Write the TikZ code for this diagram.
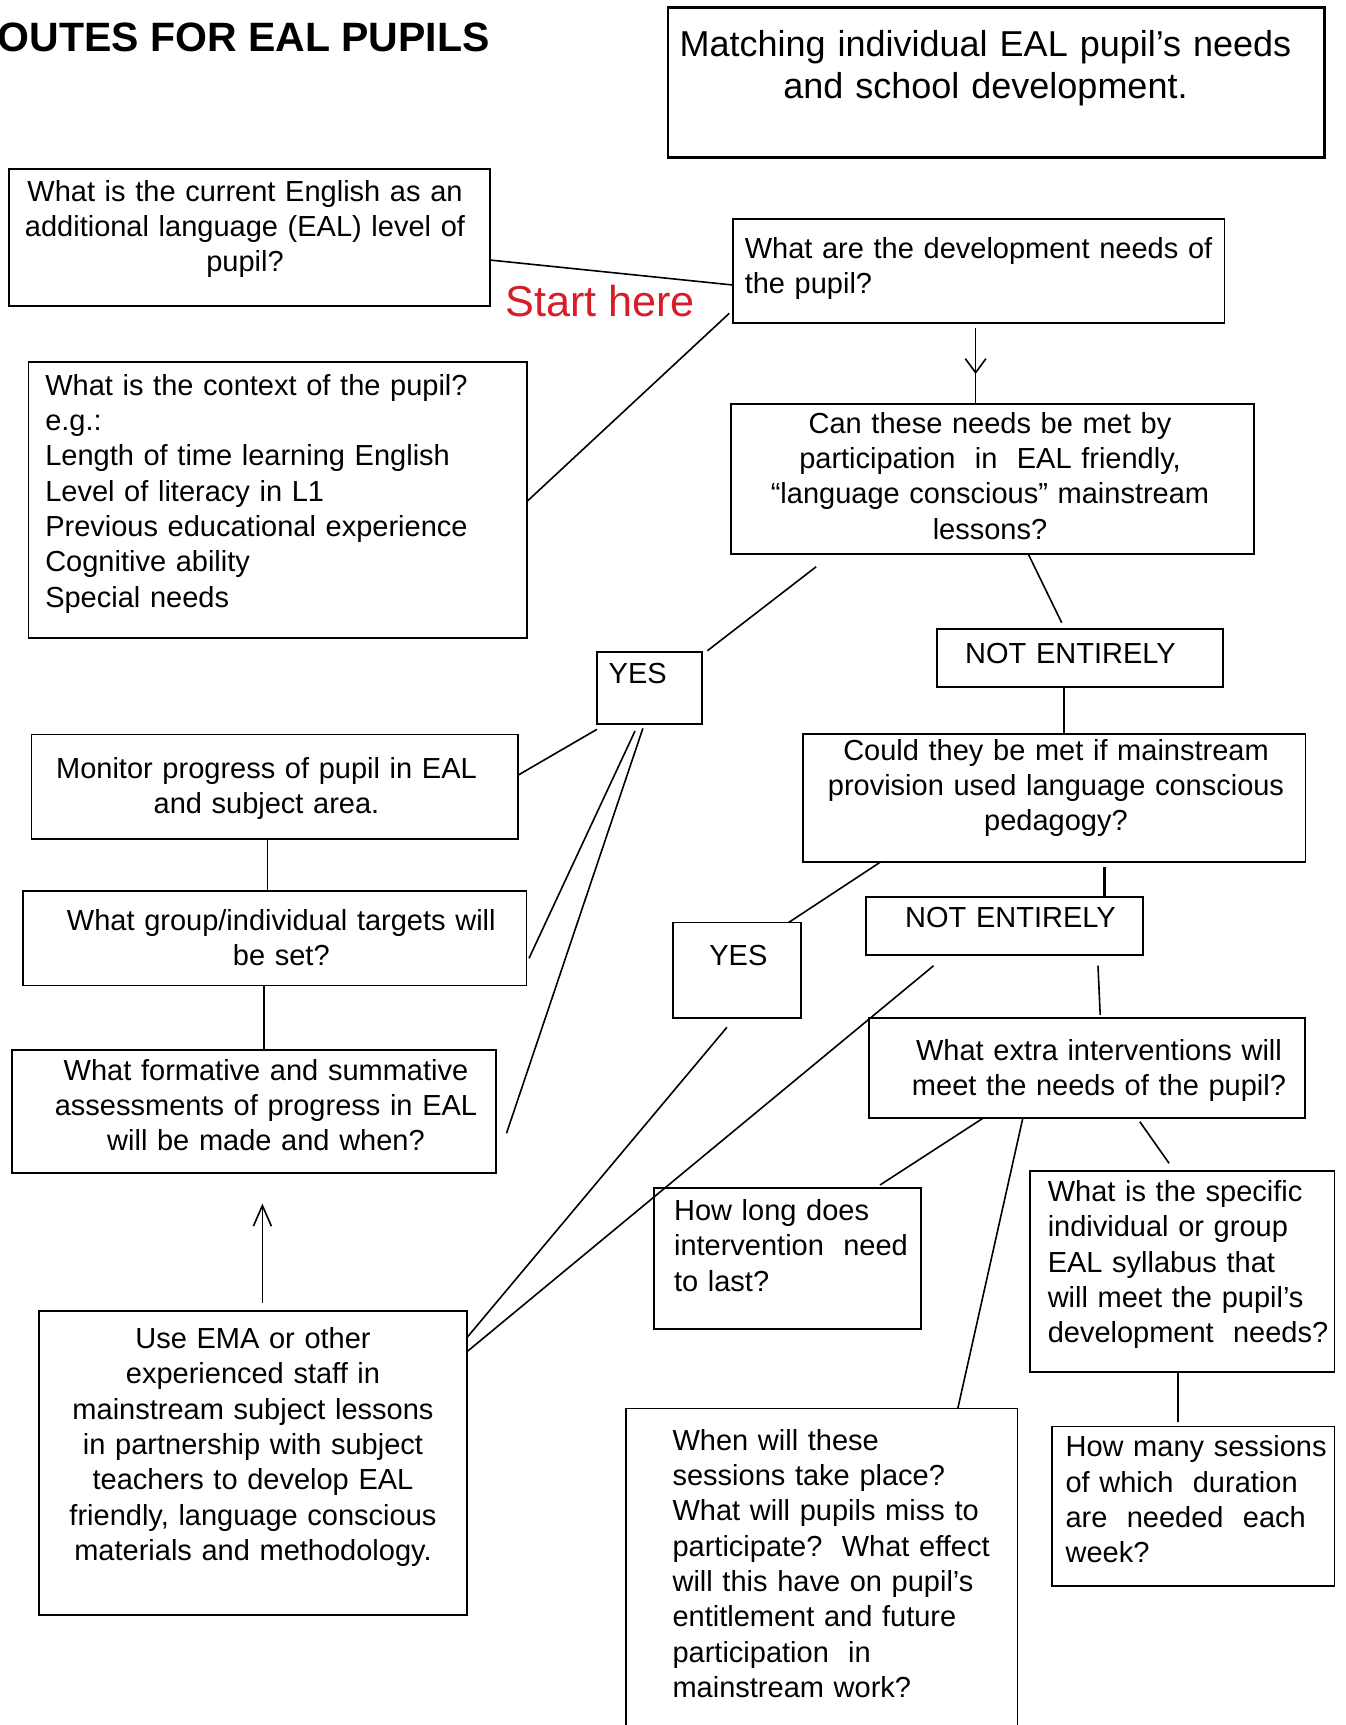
\documentclass[tikz,border=0pt]{standalone}
\usepackage{fontspec}
\setmainfont{Liberation Sans}
\usetikzlibrary{arrows.meta,fit}
\definecolor{startred}{RGB}{215,30,40}

\begin{document}
\begin{tikzpicture}[x=0.75pt,y=0.75pt,yscale=-1,
  box/.style={draw, line width=1.45pt, inner sep=0pt, outer sep=0pt},
  conn/.style={line width=1.2pt},
  txt/.style={inner sep=0pt, anchor=base, align=center, text width=390pt,
    font=\fontsize{21.75}{26.5}\selectfont},
  txtl/.style={txt, anchor=base west, align=left},
  downtip/.style={-{Straight Barb[length=10.5pt,width=15.5pt]}},
  uptip/.style={-{Straight Barb[length=15.5pt,width=13.5pt]}}]
\useasboundingbox (0,0) rectangle (1346,1725);

%Shape: Rectangle
\node[box, line width=1.85pt, fit={(668,7.3) (1324.5,157.7)}] (matching) {};
\node[box, fit={(8.9,169) (489.7,305.7)}] (eal) {};
\node[box, fit={(732.8,219) (1224.5,322.8)}] (devneeds) {};
\node[box, fit={(28.5,361.7) (526.7,637.7)}] (ctx) {};
\node[box, fit={(730.9,404) (1254,554.3)}] (canmet) {};
\node[box, fit={(936.9,628.8) (1223,686.7)}] (ne1) {};
\node[box, fit={(597.3,652) (702.4,724)}] (yes1) {};
\node[box, fit={(803.2,734) (1305.5,861.7)}] (could) {};
\node[box, fit={(31.5,734.5) (517.8,839)}] (monitor) {};
\node[box, fit={(866,897.3) (1143,955.2)}] (ne2) {};
\node[box, fit={(673.2,922.5) (800.8,1018.2)}] (yes2) {};
\node[box, fit={(23,891) (526.5,985.5)}] (targets) {};
\node[box, fit={(11.8,1050) (495.8,1173)}] (formative) {};
\node[box, fit={(868.6,1018.2) (1305.4,1118.2)}] (extra) {};
\node[box, fit={(653.6,1188.4) (921.3,1328.7)}] (howlong) {};
\node[box, fit={(1030.1,1171) (1334.5,1372)}] (specific) {};
\node[box, fit={(1052.1,1426.5) (1334.5,1586)}] (howmany) {};
\node[box, fit={(626.2,1408.5) (1017.5,1740)}] (when) {};
\node[box, fit={(38.7,1311) (466.6,1615)}] (useema) {};

% Text Node
\node[inner sep=0pt, anchor=base east, font=\fontsize{30.75}{36}\selectfont\bfseries] (title) at (490,51.7) {OUTES FOR EAL PUPILS};
\node[txt, text width=480pt, font=\fontsize{27}{31.7}\selectfont] (matching-t) at (985.5,56.7) {Matching individual EAL pupil’s needs\\and school development.};
\node[inner sep=0pt, anchor=base west, text=startred, font=\fontsize{32.4}{36}\selectfont] (start) at (505,316.7) {Start here};
\node[txt] (eal-t) at (245,201) {What is the current English as an\\additional language (EAL) level of\\pupil?};
\node[txtl] (devneeds-t) at (744.5,258.3) {What are the development needs of\\the pupil?};
\node[txtl] (ctx-t) at (45,395) {What is the context of the pupil?\\e.g.:\\Length of time learning English\\Level of literacy in L1\\Previous educational experience\\Cognitive ability\\Special needs};
\node[txt] (canmet-t) at (990,433.3) {Can these needs be met by\\participation\ \ in\ \ EAL friendly,\\“language conscious” mainstream\\lessons?};
\node[txt] (ne1-t) at (1070.4,663.3) {NOT ENTIRELY};
\node[txtl] (yes1-t) at (608.4,683.3) {YES};
\node[txt] (could-t) at (1056,760) {Could they be met if mainstream\\provision used language conscious\\pedagogy?};
\node[txt] (monitor-t) at (266.5,778.3) {Monitor progress of pupil in EAL\\and subject area.};
\node[txt] (ne2-t) at (1010.4,927.3) {NOT ENTIRELY};
\node[txt] (targets-t) at (281.3,930) {What group/individual targets will\\be set?};
\node[txt] (yes2-t) at (738.4,965) {YES};
\node[txt] (extra-t) at (1099,1060) {What extra interventions will\\meet the needs of the pupil?};
\node[txt] (formative-t) at (266,1080) {What formative and summative\\assessments of progress in EAL\\will be made and when?};
\node[txtl] (howlong-t) at (673.8,1220.5) {How long does\\intervention\ \ need\\to last?};
\node[txtl] (specific-t) at (1047.5,1201.5) {What is the specific\\individual or group\\EAL syllabus that\\will meet the pupil’s\\development\ \ needs?};
\node[txt] (useema-t) at (253,1348.6) {Use EMA or other\\experienced staff in\\mainstream subject lessons\\in partnership with subject\\teachers to develop EAL\\friendly, language conscious\\materials and methodology.};
\node[txtl] (when-t) at (672.3,1450) {When will these\\sessions take place?\\What will pupils miss to\\participate?\ \ What effect\\will this have on pupil’s\\entitlement and future\\participation\ \ in\\mainstream work?};
\node[txtl] (howmany-t) at (1065.3,1456.7) {How many sessions\\of which\ \ duration\\are\ \ needed\ \ each\\week?};

% free ends of the connectors
\coordinate (s1) at (729.3,313.3);
\coordinate (a1) at (975.6,328.3);
\coordinate (a1tip) at (975.6,374);
\coordinate (y1a) at (816.2,566.7);
\coordinate (y1b) at (707.4,650.7);
\coordinate (n1b) at (1061.7,622.7);
\coordinate (n2a) at (1104.6,866.7);
\coordinate (ex1) at (1098,965.7);
\coordinate (ex2) at (1100.2,1015);
\coordinate (ema1) at (933.6,965.7);
\coordinate (ema2) at (726.9,1027.3);
\coordinate (a2) at (262.4,1303.4);
\coordinate (a2tip) at (262.4,1203.5);
\coordinate (hl) at (880,1185);
\coordinate (sp1) at (1139.8,1121.7);
\coordinate (sp2) at (1169.1,1163.3);
\coordinate (hm) at (1178,1422);
\coordinate (mo) at (597,729.3);
\coordinate (ta1) at (635,731);
\coordinate (ta2) at (529,958.3);
\coordinate (fo1) at (642.9,728.3);
\coordinate (fo2) at (506.5,1133.3);

%Straight Lines
\draw[conn] (eal.east |- 0,260) -- (devneeds.west |- 0,285);
\draw[conn] (s1) -- (ctx.east |- 0,501.7);
\draw[conn, downtip] (a1) -- (a1tip);
\draw[conn] (a1tip) -- (canmet.north -| a1tip);
\draw[conn] (y1a) -- (y1b);
\draw[conn] (canmet.south -| 1028.4,0) -- (n1b);
\draw[conn] (ne1.south -| 1063.8,0) -- (could.north -| 1063.8,0);
\draw[line width=2.7pt] (n2a) -- (ne2.north -| n2a);
\draw[conn] (could.south -| 881,0) -- (yes2.north -| 788.6,0);
\draw[conn] (ex1) -- (ex2);
\draw[conn] (ema1) -- (useema.east |- 0,1352);
\draw[conn] (ema2) -- (useema.east |- 0,1338);
\draw[conn, uptip] (a2) -- (a2tip);
\draw[conn] (extra.south -| 983,0) -- (hl);
\draw[conn] (extra.south -| 1022.8,0) -- (when.north -| 957.8,0);
\draw[conn] (sp1) -- (sp2);
\draw[conn] (specific.south -| hm) -- (hm);
\draw[conn] (mo) -- (monitor.east |- 0,775.3);
\draw[conn] (ta1) -- (ta2);
\draw[conn] (fo1) -- (fo2);
\draw[conn] (monitor.south -| 267.3,0) -- (targets.north -| 267.3,0);
\draw[conn] (targets.south -| 264,0) -- (formative.north -| 264,0);

\end{tikzpicture}
\end{document}
